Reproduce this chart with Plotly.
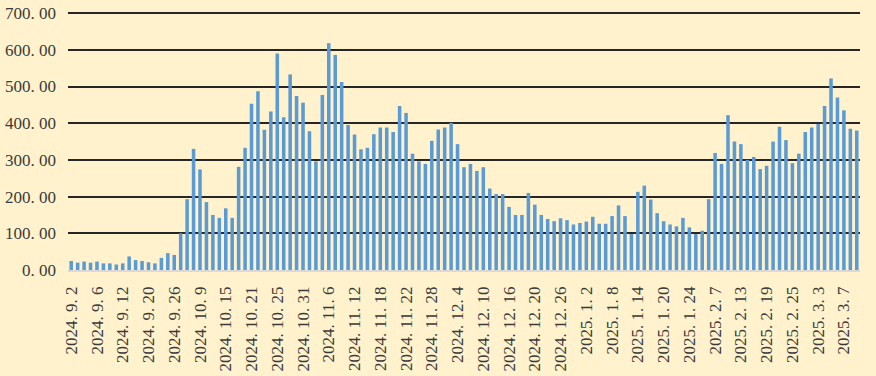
import plotly.graph_objects as go

dates = [
    "2024.9.2", "2024.9.3", "2024.9.4", "2024.9.5", "2024.9.6", "2024.9.9", "2024.9.10", "2024.9.11",
    "2024.9.12", "2024.9.13", "2024.9.18", "2024.9.19", "2024.9.20", "2024.9.23", "2024.9.24", "2024.9.25",
    "2024.9.26", "2024.9.27", "2024.9.30",
    "2024.10.8", "2024.10.9", "2024.10.10", "2024.10.11", "2024.10.14", "2024.10.15", "2024.10.16",
    "2024.10.17", "2024.10.18", "2024.10.21", "2024.10.22", "2024.10.23", "2024.10.24", "2024.10.25",
    "2024.10.28", "2024.10.29", "2024.10.30", "2024.10.31",
    "2024.11.1", "2024.11.4", "2024.11.5", "2024.11.6", "2024.11.7", "2024.11.8", "2024.11.11",
    "2024.11.12", "2024.11.13", "2024.11.14", "2024.11.15", "2024.11.18", "2024.11.19", "2024.11.20",
    "2024.11.21", "2024.11.22", "2024.11.25", "2024.11.26", "2024.11.27", "2024.11.28", "2024.11.29",
    "2024.12.2", "2024.12.3", "2024.12.4", "2024.12.5", "2024.12.6", "2024.12.9", "2024.12.10",
    "2024.12.11", "2024.12.12", "2024.12.13", "2024.12.16", "2024.12.17", "2024.12.18", "2024.12.19",
    "2024.12.20", "2024.12.23", "2024.12.24", "2024.12.25", "2024.12.26", "2024.12.27", "2024.12.30",
    "2024.12.31",
    "2025.1.2", "2025.1.3", "2025.1.6", "2025.1.7", "2025.1.8", "2025.1.9", "2025.1.10", "2025.1.13",
    "2025.1.14", "2025.1.15", "2025.1.16", "2025.1.17", "2025.1.20", "2025.1.21", "2025.1.22",
    "2025.1.23", "2025.1.24", "2025.1.27",
    "2025.2.5", "2025.2.6", "2025.2.7", "2025.2.10", "2025.2.11", "2025.2.12", "2025.2.13", "2025.2.14",
    "2025.2.17", "2025.2.18", "2025.2.19", "2025.2.20", "2025.2.21", "2025.2.24", "2025.2.25",
    "2025.2.26", "2025.2.27", "2025.2.28",
    "2025.3.3", "2025.3.4", "2025.3.5", "2025.3.6", "2025.3.7", "2025.3.10", "2025.3.11",
]

values = [
    24.5, 20, 23, 20, 23, 18, 18, 15, 18, 37, 27, 24.5, 21, 18, 33, 46, 41, 100, 193,
    330, 274, 185, 150, 142, 168, 142, 281, 333, 453, 487, 382, 432, 590, 416, 533, 474, 456,
    378, 296, 477, 618, 586, 512, 395, 369, 329, 333, 370, 388, 388, 376, 447, 428, 317, 296, 289, 352, 383,
    388, 401, 343, 280, 289, 270, 280, 222, 207, 207, 172, 150, 150, 210, 178, 150, 139, 133, 141, 136, 124, 128,
    132, 145, 126, 126, 147, 176, 147, 98, 213, 230, 192, 155, 133, 124, 119, 142, 116, 98,
    107, 193, 319, 289, 422, 350, 343, 300, 308, 275, 284, 350, 390, 354, 291, 317, 376, 388,
    398, 447, 522, 470, 435, 385, 380,
]

x_tick_dates = [
    "2024.9.2", "2024.9.6", "2024.9.12", "2024.9.20", "2024.9.26", "2024.10.9", "2024.10.15",
    "2024.10.21", "2024.10.25", "2024.10.31", "2024.11.6", "2024.11.12", "2024.11.18", "2024.11.22",
    "2024.11.28", "2024.12.4", "2024.12.10", "2024.12.16", "2024.12.20", "2024.12.26", "2025.1.2",
    "2025.1.8", "2025.1.14", "2025.1.20", "2025.1.24", "2025.2.7", "2025.2.13", "2025.2.19",
    "2025.2.25", "2025.3.3", "2025.3.7",
]
x_tick_labels = [d.replace(".", ". ") for d in x_tick_dates]

y_tick_values = [0, 100, 200, 300, 400, 500, 600, 700]
y_tick_labels = ["0. 00", "100. 00", "200. 00", "300. 00", "400. 00", "500. 00", "600. 00", "700. 00"]

BG = "#FFF2CC"
TEXT = "#3A3A3A"
FONT = "Liberation Serif"

fig = go.Figure(
    go.Bar(
        x=dates,
        y=values,
        marker=dict(color="#5B9BD5", line=dict(width=0)),
    )
)

fig.update_layout(
    width=876,
    height=376,
    margin=dict(l=68, r=16, t=12, b=106),
    paper_bgcolor=BG,
    plot_bgcolor=BG,
    bargap=0.45,
    showlegend=False,
    font=dict(family=FONT, size=17, color=TEXT),
)

fig.update_xaxes(
    type="category",
    categoryorder="array",
    categoryarray=dates,
    tickmode="array",
    tickvals=x_tick_dates,
    ticktext=x_tick_labels,
    tickangle=-90,
    ticks="",
    ticklabelstandoff=8,
    showgrid=False,
    showline=True,
    linecolor="#D9D9D9",
    linewidth=1.5,
    automargin=False,
    tickfont=dict(family=FONT, size=17, color=TEXT),
)

fig.update_yaxes(
    range=[0, 703],
    tickmode="array",
    tickvals=y_tick_values,
    ticktext=y_tick_labels,
    showgrid=True,
    gridcolor="#262626",
    gridwidth=1.5,
    zeroline=False,
    ticks="",
    ticklabelstandoff=11,
    automargin=False,
    tickfont=dict(family=FONT, size=17, color=TEXT),
)

fig.write_html(
    "out.html",
    config={"displayModeBar": False},
    post_script="document.body.style.margin='0';document.body.style.background='#FFF2CC';",
)
